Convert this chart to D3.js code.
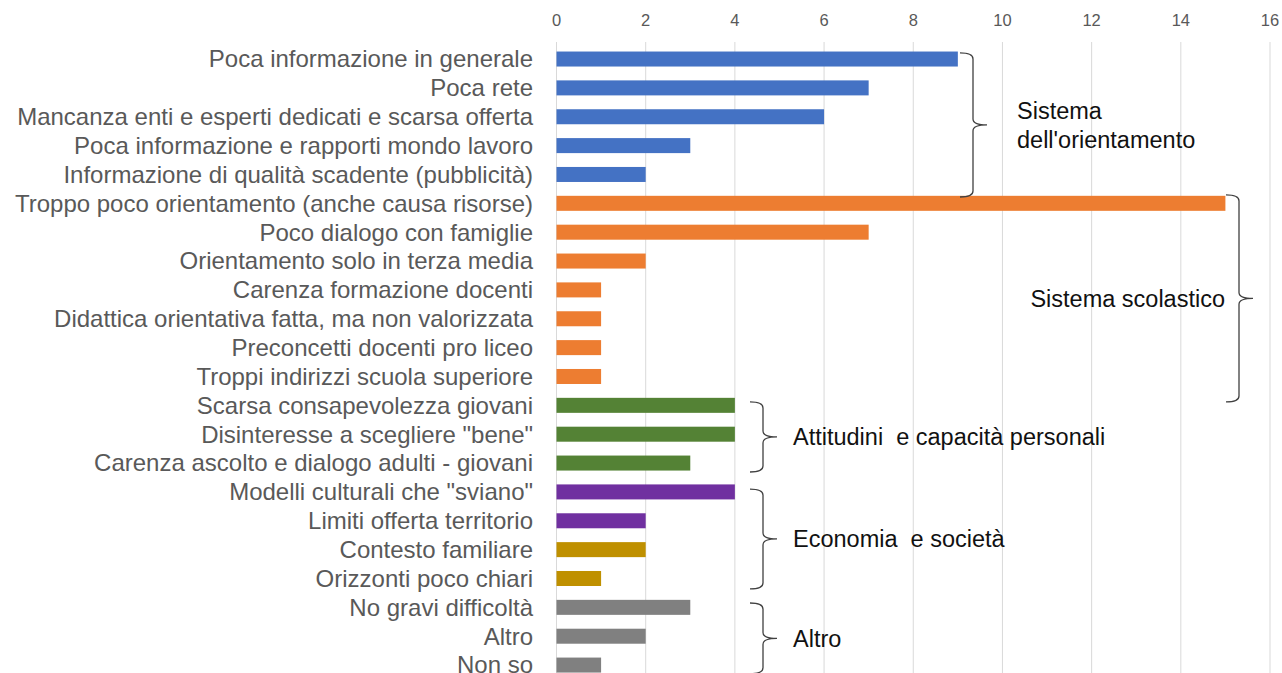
<!DOCTYPE html>
<html>
<head>
<meta charset="utf-8">
<script src="https://cdn.jsdelivr.net/npm/d3@7"></script>
<style>
  body { margin: 0; background: #fff; }
  svg { display: block; font-family: "Liberation Sans", Arial, sans-serif; }
</style>
</head>
<body>
<div id="chart"></div>
<script>
// Chart data
var categories = [
    'Poca informazione in generale',
    'Poca rete',
    'Mancanza enti e esperti dedicati e scarsa offerta',
    'Poca informazione e rapporti mondo lavoro',
    'Informazione di qualità scadente (pubblicità)',
    'Troppo poco orientamento (anche causa risorse)',
    'Poco dialogo con famiglie',
    'Orientamento solo in terza media',
    'Carenza formazione docenti',
    'Didattica orientativa fatta, ma non valorizzata',
    'Preconcetti docenti pro liceo',
    'Troppi indirizzi scuola superiore',
    'Scarsa consapevolezza giovani',
    'Disinteresse a scegliere "bene"',
    'Carenza ascolto e dialogo adulti - giovani',
    'Modelli culturali che "sviano"',
    'Limiti offerta territorio',
    'Contesto familiare',
    'Orizzonti poco chiari',
    'No gravi difficoltà',
    'Altro',
    'Non so'
]
var values = [9, 7, 6, 3, 2, 15, 7, 2, 1, 1, 1, 1, 4, 4, 3, 4, 2, 2, 1, 3, 2, 1]
var colorGroup = ['blu', 'blu', 'blu', 'blu', 'blu',
    'arancio', 'arancio', 'arancio', 'arancio', 'arancio', 'arancio', 'arancio',
    'verde', 'verde', 'verde', 'viola', 'viola', 'oro', 'oro', 'grigio', 'grigio', 'grigio']
var xTicks = [0, 2, 4, 6, 8, 10, 12, 14, 16]

// bracket groups: label lines
var groupLabels = [['Sistema', "dell'orientamento"], ['Sistema scolastico'],
    ['Attitudini  e capacità personali'], ['Economia  e società'], ['Altro']]

// Layout / style
var palette = { blu: '#4472C4', arancio: '#ED7D31', verde: '#548235', viola: '#7030A0', oro: '#BF9000', grigio: '#808080' }
// bracket geometry: x of left arm (px), top/bottom in row units, label side and gap
var bracketLayout = [
    { xl: 960, top: -0.21, bot: 4.78, side: 'right', gap: 30 },
    { xl: 1226, top: 4.71, bot: 11.88, side: 'left', gap: 1 },
    { xl: 750, top: 11.88, bot: 14.31, side: 'right', gap: 16 },
    { xl: 750, top: 14.9, bot: 18.36, side: 'right', gap: 16 },
    { xl: 750, top: 18.85, bot: 21.3, side: 'right', gap: 16 }
]

const W = 1282, H = 673

var svg = d3.select('#chart').append('svg')
    .attr('width', W)
    .attr('height', H)

const x = d3.scaleLinear().domain([0, 16]).range([556.5, 1270])
const y = d3.scaleBand().domain(d3.range(categories.length))
    .range([44.6, 679.5])
    .paddingInner(0.48)
    .paddingOuter(0.24)
const rowY = i => y(0) + y.bandwidth() / 2 + i * y.step()

// gridlines
svg.append('g').selectAll('line')
    .data(xTicks)
    .enter()
    .append('line')
    .attr('x1', d => x(d))
    .attr('x2', d => x(d))
    .attr('y1', 42)
    .attr('y2', H)
    .attr('stroke', '#d9d9d9')
    .attr('stroke-width', 1)

// top axis labels
svg.append('g').selectAll('text')
    .data(xTicks)
    .enter()
    .append('text')
    .attr('x', d => x(d))
    .attr('y', 26)
    .attr('text-anchor', 'middle')
    .attr('fill', '#595959')
    .attr('font-size', '16.5px')
    .text(d => d)

// bars
svg.append('g').selectAll('rect')
    .data(values)
    .enter()
    .append('rect')
    .attr('x', x(0))
    .attr('y', (d, i) => y(i))
    .attr('width', d => x(d) - x(0))
    .attr('height', y.bandwidth())
    .attr('fill', (d, i) => palette[colorGroup[i]])

// category labels
svg.append('g').selectAll('text')
    .data(categories)
    .enter()
    .append('text')
    .attr('x', 533)
    .attr('y', (d, i) => rowY(i))
    .attr('dy', '0.35em')
    .attr('text-anchor', 'end')
    .attr('fill', '#595959')
    .attr('font-size', '24px')
    .text(d => d)

// curly brackets with labels
bracketLayout.forEach((b, gi) => {
    var top = rowY(b.top), bot = rowY(b.bot), mid = (top + bot) / 2
    var xv = b.xl + 13, xt = xv + 14, r = 6
    var p = d3.path()
    p.moveTo(b.xl, top)
    p.quadraticCurveTo(xv, top, xv, top + r)
    p.lineTo(xv, mid - r)
    p.quadraticCurveTo(xv, mid, xt, mid)
    p.quadraticCurveTo(xv, mid, xv, mid + r)
    p.lineTo(xv, bot - r)
    p.quadraticCurveTo(xv, bot, b.xl, bot)
    svg.append('path')
        .attr('d', p.toString())
        .attr('fill', 'none')
        .attr('stroke', '#404040')
        .attr('stroke-width', 1.3)

    var lines = groupLabels[gi]
    var t = svg.append('text')
        .attr('font-size', '23.5px')
        .attr('fill', '#111')
        .style('white-space', 'pre')
        .attr('text-anchor', b.side == 'left' ? 'end' : 'start')
    var tx = b.side == 'left' ? b.xl - b.gap : xt + b.gap
    lines.forEach((line, li) => {
        t.append('tspan')
            .attr('x', tx)
            .attr('y', mid + (li - (lines.length - 1) / 2) * 29)
            .attr('dy', '0.35em')
            .text(line)
    })
})
</script>
</body>
</html>
